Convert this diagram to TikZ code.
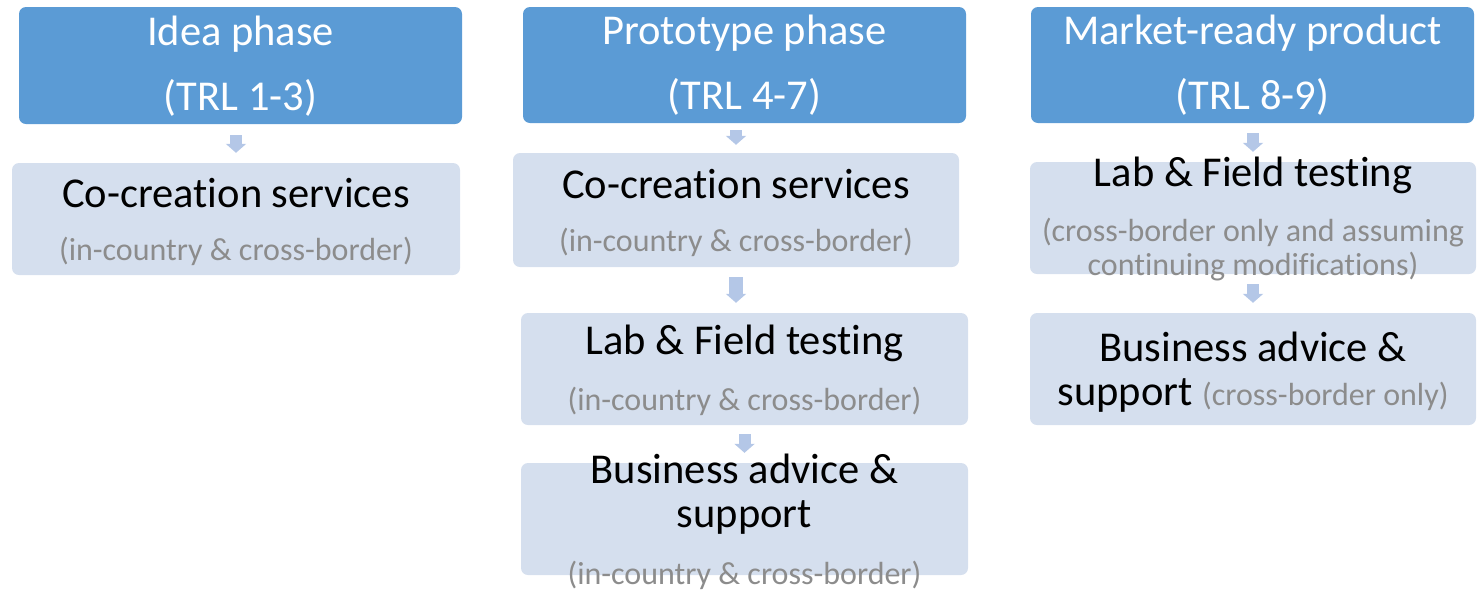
\documentclass[tikz,border=0pt]{standalone}
\usepackage{fontspec}
\setmainfont[Ligatures=NoCommon]{Carlito}
\usetikzlibrary{arrows.meta}
\definecolor{headblue}{HTML}{5B9BD5}
\definecolor{paleblue}{HTML}{D5DFEE}
\definecolor{arrowblue}{HTML}{B4C7E7}
\definecolor{subgrey}{HTML}{8C8C8C}
\tikzset{
  headbox/.style={fill=headblue,rounded corners=7pt,inner sep=0pt},
  palebox/.style={fill=paleblue,rounded corners=7pt,inner sep=0pt},
  bigtxt/.style={font=\fontsize{42.5}{48}\selectfont},
  headtxt/.style={bigtxt,text=white},
  subtxt/.style={font=\fontsize{32}{36}\selectfont,text=subgrey},
  fatarrow/.style={draw=arrowblue,line width=12pt,
    -{Triangle[width=20pt,length=9pt]}}
}
\begin{document}
\begin{tikzpicture}[x=1pt,y=-1pt]
  \useasboundingbox (0,0) rectangle (1481,590);
  % headers
  \node[headbox,minimum width=443pt,minimum height=117pt] (h1) at (240.5,65.5) {};
  \node[headbox,minimum width=443pt,minimum height=116pt] (h2) at (744.5,65) {};
  \node[headbox,minimum width=443pt,minimum height=116pt] (h3) at (1252.5,65) {};
  \node[headtxt] at (240.5,34) {Idea phase};
  \node[headtxt] at (240.5,98) {(TRL 1-3)};
  \node[headtxt] at (744.5,33) {Prototype phase};
  \node[headtxt] at (744.5,97) {(TRL 4-7)};
  \node[headtxt] at (1252.5,33) {Market-ready product};
  \node[headtxt] at (1252.5,97) {(TRL 8-9)};
  % idea column
  \node[palebox,minimum width=448pt,minimum height=112pt] (cc1) at (236,219) {};
  \node[bigtxt] at (236,193) {Co-creation services};
  \node[subtxt] at (236,251) {(in-country \& cross-border)};
  % prototype column
  \node[palebox,minimum width=446pt,minimum height=114pt] (cc2) at (736,210) {};
  \node[bigtxt] at (736,184) {Co-creation services};
  \node[subtxt] at (736,242) {(in-country \& cross-border)};
  \node[palebox,minimum width=447pt,minimum height=112pt] (lf2) at (744.5,369) {};
  \node[bigtxt] at (744.5,343) {Lab \& Field testing};
  \node[subtxt] at (744.5,401) {(in-country \& cross-border)};
  \node[palebox,minimum width=447pt,minimum height=112pt] (ba2) at (744.5,519) {};
  \node[bigtxt] at (744.5,469) {Business advice \&};
  \node[bigtxt] at (744.5,517) {support};
  \node[subtxt] at (744.5,575) {(in-country \& cross-border)};
  % market column
  \node[palebox,minimum width=446pt,minimum height=112pt] (lf3) at (1253,218) {};
  \node[bigtxt] at (1253,175) {Lab \& Field testing};
  \node[subtxt] at (1253,233) {(cross-border only and assuming};
  \node[subtxt] at (1253,267) {continuing modifications)};
  \node[palebox,minimum width=446pt,minimum height=112pt] (ba3) at (1253,369) {};
  \node[bigtxt] at (1253,347) {Business advice \&};
  \node[anchor=base] at (1253,405) {\fontsize{42.5}{48}\selectfont support
    \fontsize{32}{36}\selectfont\color{subgrey}(cross-border only)};
  % arrows
  \draw[fatarrow,shorten <=11pt,shorten >=10pt] (h1.south -| cc1) -- (cc1.north);
  \draw[fatarrow,shorten <=7pt,shorten >=8pt] (h2.south -| cc2) -- (cc2.north);
  \draw[fatarrow,line width=14pt,shorten <=10pt,shorten >=10pt] (cc2.south) -- (cc2.south |- lf2.north);
  \draw[fatarrow,shorten <=9pt,shorten >=10pt] (lf2.south) -- (ba2.north);
  \draw[fatarrow,shorten <=10pt,shorten >=10pt] (h3.south -| lf3) -- (lf3.north);
  \draw[fatarrow,shorten <=10pt,shorten >=10pt] (lf3.south) -- (ba3.north);
\end{tikzpicture}
\end{document}
